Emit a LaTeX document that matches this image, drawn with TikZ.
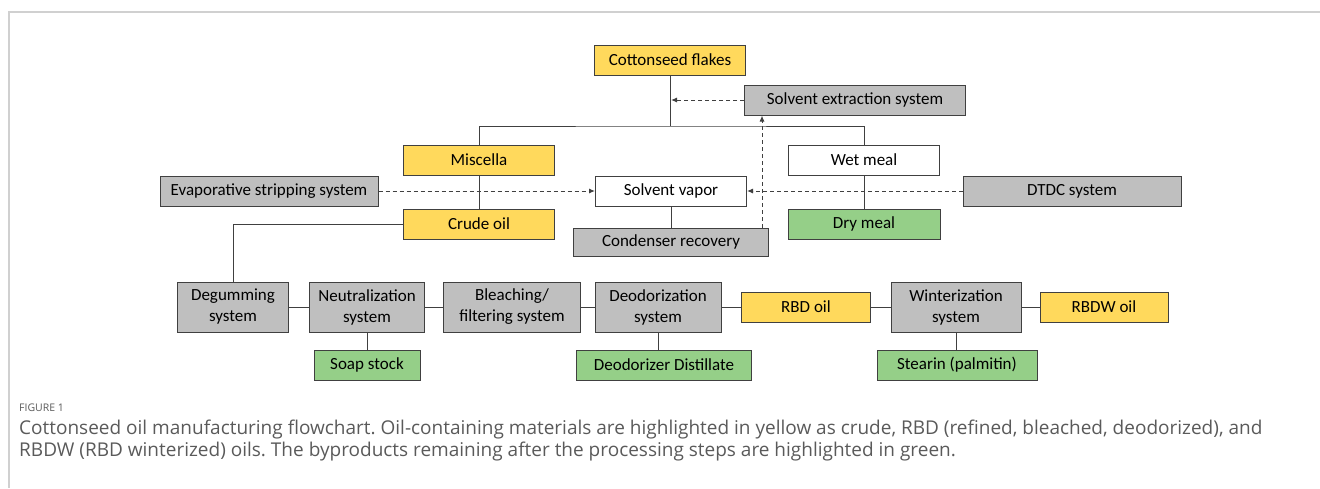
\documentclass[tikz,border=0pt]{standalone}
\usepackage{fontspec}
\setmainfont{Carlito}
\newfontfamily\capfont{Open Sans}
\usetikzlibrary{arrows.meta}
\frenchspacing
\definecolor{oilyellow}{HTML}{FFD95C}
\definecolor{sysgray}{HTML}{BFBFBF}
\definecolor{bygreen}{HTML}{95CF88}
\definecolor{edgegray}{HTML}{404040}
\definecolor{framegray}{HTML}{D0D0D0}
\definecolor{capgray}{HTML}{5A5A5A}
\tikzset{
box/.style={draw=edgegray, line width=1pt, inner sep=0pt, align=center, font=\fontsize{17}{21}\selectfont},
oil/.style={box, fill=oilyellow, minimum width=151pt, minimum height=30pt},
sys/.style={box, fill=sysgray, minimum height=30pt},
proc/.style={box, fill=sysgray, minimum height=50pt},
byprod/.style={box, fill=bygreen, minimum height=30pt},
plain/.style={box, fill=white, minimum width=151pt, minimum height=30pt},
link/.style={draw=edgegray, line width=1pt},
flow/.style={link, dash pattern=on 4pt off 3pt, -{Latex[length=6pt,width=5pt]}}
}
\begin{document}
\begin{tikzpicture}[x=1pt,y=-1pt]
\useasboundingbox (0,0) rectangle (1320,488);
\draw[framegray, line width=1.5pt] (1320,12) -- (9,12) -- (9,488);
% extraction part
\node[oil] (flakes) at (670,60) {Cottonseed flakes};
\node[sys, minimum width=221pt] (solvext) at (855,100) {Solvent extraction system};
\node[oil] (miscella) at (479,160) {Miscella};
\node[plain] (wetmeal) at (864,160) {Wet meal};
\node[sys, minimum width=218pt] (evap) at (269,191) {Evaporative stripping system};
\node[plain] (vapor) at (671,191) {Solvent vapor};
\node[sys, minimum width=218pt] (dtdc) at (1072,191) {DTDC system};
\node[oil] (crude) at (479,224) {Crude oil};
\node[byprod, minimum width=152pt] (drymeal) at (864,224) {Dry meal};
\node[sys, minimum width=195pt, minimum height=28pt] (condenser) at (671,242) {Condenser recovery};
\coordinate (split) at (670,126);
\coordinate (ext) at (671,100);
\draw[link] (flakes) -- (split);
\draw[link] (miscella.north) |- (split) -| (wetmeal.north);
\draw[link] (miscella) -- (crude);
\draw[link] (wetmeal) -- (drymeal);
\draw[link] (vapor) -- (condenser);
\draw[flow] (solvext) -- (ext);
\draw[flow] (evap) -- (vapor);
\draw[flow] (dtdc) -- (vapor);
\draw[flow] ([xshift=-7pt]condenser.north east) -- ([xshift=-7pt]condenser.north east |- solvext.south);
% refining part
\node[proc, minimum width=111pt] (degum) at (233,307) {Degumming\\system};
\node[proc, minimum width=115pt] (neutral) at (367,307) {Neutralization\\system};
\node[proc, minimum width=137pt] (bleach) at (512,307) {Bleaching/\\filtering system};
\node[proc, minimum width=126pt] (deodor) at (658,307) {Deodorization\\system};
\node[oil, minimum width=129pt] (rbd) at (806,307) {RBD oil};
\node[proc, minimum width=130pt] (winter) at (956,307) {Winterization\\system};
\node[oil, minimum width=128pt] (rbdw) at (1104,307) {RBDW oil};
\node[byprod, minimum width=106pt] (soap) at (367,365) {Soap stock};
\node[byprod, minimum width=175pt] (distill) at (664,365) {Deodorizer Distillate};
\node[byprod, minimum width=160pt] (stearin) at (957,365) {Stearin (palmitin)};
\draw[link] (crude.west) -| (degum.north);
\foreach \a/\b in {degum/neutral,neutral/bleach,bleach/deodor,deodor/rbd,rbd/winter,winter/rbdw}
{
\draw[link] (\a) -- (\b);
}
\foreach \a/\b in {neutral/soap,deodor/distill,winter/stearin}
{
\draw[link] (\a.south) -- (\a.south |- \b.north);
}
% caption
\node[anchor=west, inner sep=0pt, font=\capfont\fontsize{10.5}{12}\selectfont, text=capgray] (figlabel) at (19,408) {FIGURE 1};
\node[anchor=north west, align=left, inner sep=0pt, font=\capfont\fontsize{19}{22}\selectfont, text=capgray] (caption) at (19,420) {Cottonseed oil manufacturing flowchart. Oil-containing materials are highlighted in yellow as crude, RBD (refined, bleached, deodorized), and\\RBDW (RBD winterized) oils. The byproducts remaining after the processing steps are highlighted in green.};
\end{tikzpicture}
\end{document}
